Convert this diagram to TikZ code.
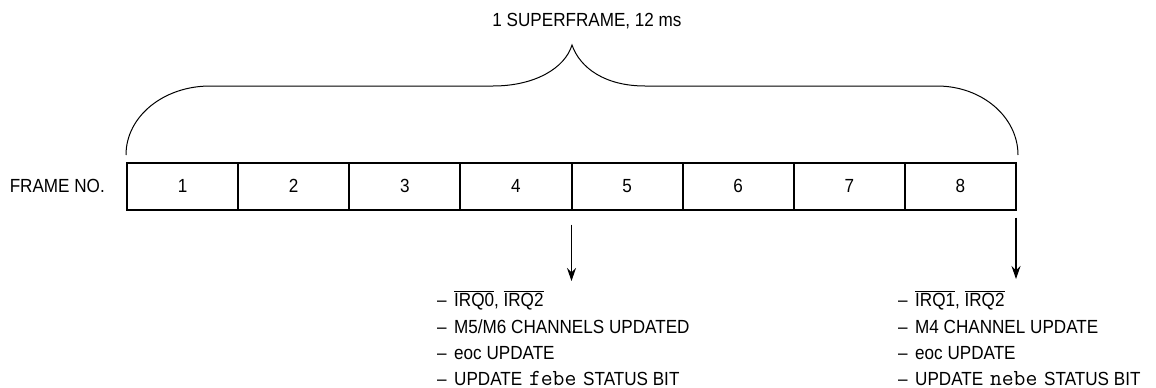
\documentclass[tikz,border=0pt]{standalone}
\usepackage{fontspec}
\setmainfont{Liberation Sans}[FakeStretch=0.9]
\usetikzlibrary{arrows.meta}
\newcommand{\ovl}[1]{$\overline{\mbox{#1}}$}
\newcommand{\dashitem}{\makebox[17pt][l]{\textendash}}
\newcommand{\mono}[1]{\hspace{2pt}{\fontsize{23}{23}\selectfont\ttfamily #1}\hspace{2pt}}
\begin{document}
\begin{tikzpicture}[x=1pt,y=-1pt,
  every node/.style={font=\fontsize{19}{23}\selectfont},
  cell/.style={draw,line width=2pt,minimum width=111.125pt,minimum height=47pt,inner sep=0pt,outer sep=0pt},
  lbl/.style={inner sep=0pt,anchor=base west},
  arr/.style={line width=1.1pt,-{Stealth[length=13pt,width=9pt]}},
  brace/.style={line width=1pt}]
\useasboundingbox (0,0) rectangle (1156,388);
% title
\node[anchor=base,inner sep=0pt] (title) at (587,26.7) {1 SUPERFRAME, 12 ms};
% brace
\draw[brace] (126,155) .. controls (126,116) and (164,86) .. (210,86) -- (493,86)
  .. controls (535,86) and (565,68) .. (572,45)
  .. controls (580,68) and (605,86) .. (645,86) -- (937,86)
  .. controls (982,86) and (1018,117) .. (1018,155);
% frames
\node[anchor=base east,inner sep=0pt] (fn) at (105,192) {FRAME NO.};
\foreach \i in {1,...,8}
  \node[cell] (f\i) at ({127+111.125*(\i-0.5)},186) {\i};
% arrows
\coordinate (t1) at (571.5,281);
\coordinate (t2) at (1016,279);
\draw[arr] ([yshift=-15pt]f4.south east) -- (t1);
\draw[arr] ([yshift=-8pt]f8.south east) -- (t2);
% left list
\node[lbl] (a1) at (437,306) {\dashitem\ovl{IRQ0}, \ovl{IRQ2}};
\node[lbl] (a2) at (437,333) {\dashitem M5/M6 CHANNELS UPDATED};
\node[lbl] (a3) at (437,359) {\dashitem eoc UPDATE};
\node[lbl] (a4) at (437,385) {\dashitem UPDATE \mono{febe} STATUS BIT};
% right list
\node[lbl] (b1) at (898,306) {\dashitem\ovl{IRQ1}, \ovl{IRQ2}};
\node[lbl] (b2) at (898,333) {\dashitem M4 CHANNEL UPDATE};
\node[lbl] (b3) at (898,359) {\dashitem eoc UPDATE};
\node[lbl] (b4) at (898,385) {\dashitem UPDATE \mono{nebe} STATUS BIT};
\end{tikzpicture}
\end{document}
